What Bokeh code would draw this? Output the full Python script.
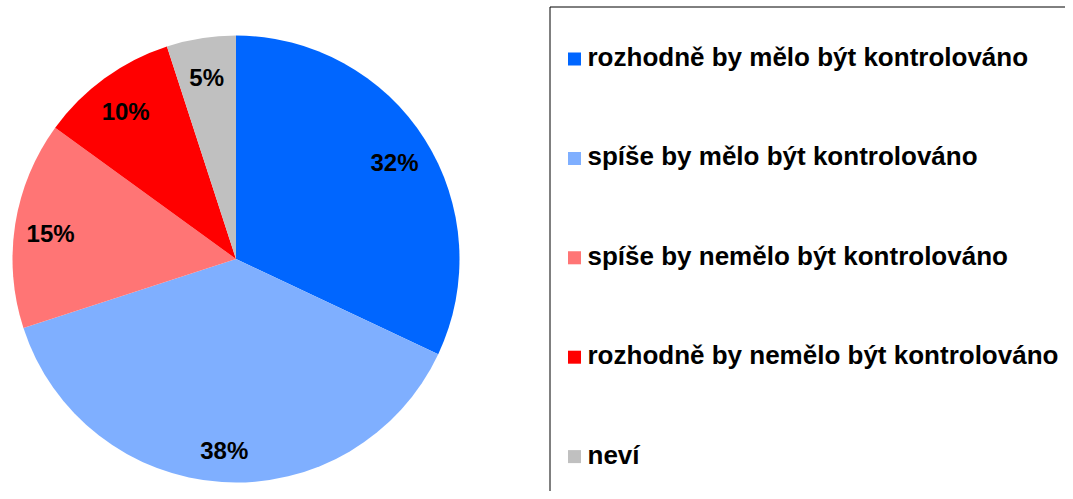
import math
from bokeh.plotting import figure
from bokeh.models import ColumnDataSource, Range1d
from bokeh.core.properties import value
from bokeh.embed import file_html
from bokeh.resources import INLINE

categories = [
    "rozhodně by mělo být kontrolováno",
    "spíše by mělo být kontrolováno",
    "spíše by nemělo být kontrolováno",
    "rozhodně by nemělo být kontrolováno",
    "neví",
]
values = [32, 38, 15, 10, 5]
labels = ["32%", "38%", "15%", "10%", "5%"]
colors = ["#0066FF", "#7FAFFF", "#FF7575", "#FF0000", "#C0C0C0"]

W, H = 1065, 491
FONT = "Liberation Sans"

# pie geometry (pixel-like data units)
cx, cy, R = 235.5, H - 258.5, 223.5
total = float(sum(values))
starts, ends, lx, ly = [], [], [], []
cum = 0.0
for v in values:
    a0 = math.pi / 2 - 2 * math.pi * (cum + v) / total
    a1 = math.pi / 2 - 2 * math.pi * cum / total
    starts.append(a0)
    ends.append(a1)
    mid = (a0 + a1) / 2
    lx.append(cx + 0.84 * R * math.cos(mid))
    ly.append(cy + 0.84 * R * math.sin(mid) - 4)
    cum += v

src = ColumnDataSource(dict(start=starts, end=ends, color=colors,
                            lx=lx, ly=ly, label=labels))

p = figure(width=W, height=H, output_backend="svg", toolbar_location=None,
           x_range=Range1d(0, W), y_range=Range1d(0, H),
           min_border=0, outline_line_color=None)
p.axis.visible = False
p.grid.visible = False
p.background_fill_color = "white"
p.border_fill_color = "white"

p.wedge(x=cx, y=cy, radius=R, start_angle="start", end_angle="end",
        fill_color="color", line_color=None, source=src)

p.text(x="lx", y="ly", text="label", source=src,
       text_font=value(FONT), text_font_style="bold", text_font_size="24px",
       text_align="center", text_baseline="middle", text_color="black")

# legend box (extends past the right and bottom edges)
p.quad(left=549.5, right=W + 40, bottom=-40, top=H - 6.5,
       fill_color=None, line_color="#000000", line_width=1)

pitch = 99.4
n = len(categories)
sq_y = [H - 58.5 - pitch * i for i in range(n)]
sq_x = [574.0] * n
txt_x = [587.0] * n
txt_y = [y + 2 for y in sq_y]
lsrc = ColumnDataSource(dict(x=sq_x, y=sq_y, tx=txt_x, ty=txt_y,
                             color=colors, name=categories))
p.rect(x="x", y="y", width=13, height=13, fill_color="color",
       line_color=None, source=lsrc)
p.text(x="tx", y="ty", text="name", source=lsrc,
       text_font=value(FONT), text_font_style="bold", text_font_size="26px",
       text_align="left", text_baseline="middle", text_color="black")

open("out.html", "w").write(file_html(p, INLINE))
